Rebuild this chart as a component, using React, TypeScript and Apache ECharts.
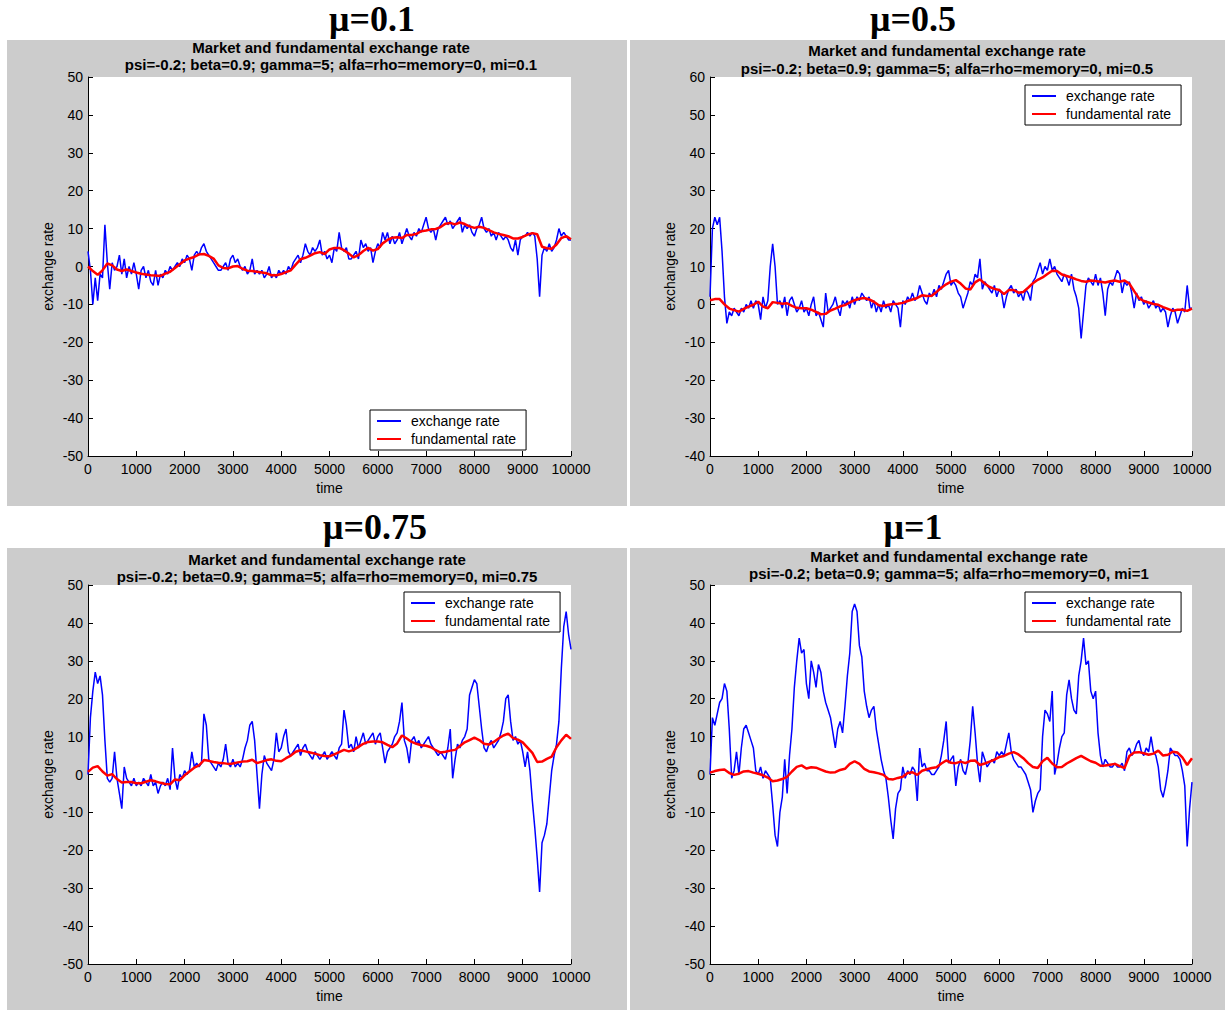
import React, { useEffect, useRef } from "react";
import * as echarts from "echarts";

// time step of the sampled series
const EXCHANGE_STEP = 50;
const FUNDAMENTAL_STEP = 100;

const SERIES_NAMES = ["exchange rate", "fundamental rate"];
const PANEL_TITLES = ["μ=0.1", "μ=0.5", "μ=0.75", "μ=1"];
const TITLE_LINE1 = "Market and fundamental exchange rate";
const TITLE_LINE2 = [
  "psi=-0.2; beta=0.9; gamma=5; alfa=rho=memory=0, mi=0.1",
  "psi=-0.2; beta=0.9; gamma=5; alfa=rho=memory=0, mi=0.5",
  "psi=-0.2; beta=0.9; gamma=5; alfa=rho=memory=0, mi=0.75",
  "psi=-0.2; beta=0.9; gamma=5; alfa=rho=memory=0, mi=1",
];
const Y_RANGES = [
  [-50, 50],
  [-40, 60],
  [-50, 50],
  [-50, 50],
];

// mu = 0.1
const p1Exchange = [
  4, -1, -10, -3, -9, -2, -3, 11, 1, -6,
  1, -1, 0, 3, -2, 2, -3, 0, -2, 1,
  -2, -6, -1, 0, -3, -1, -4, -5, -1, -5,
  -2, -3, -1, -2, 0, -1, 0, 1, 0, 2,
  1, 3, 2, -1, 3, 4, 3, 5, 6, 4,
  3, 2, 1, 0, -1, -1, 0, 1, -1, 2,
  3, 1, 2, 0, -1, 0, -2, -1, 2, -2,
  -1, -2, -1, -3, -2, 0, -3, -2, -3, -1,
  -2, -1, -2, 0, -1, 1, 2, 3, 1, 3,
  6, 4, 3, 5, 4, 5, 7, 3, 4, 2,
  3, 1, 5, 4, 9, 5, 4, 5, 2, 2,
  3, 4, 2, 7, 5, 6, 4, 5, 1, 4,
  6, 5, 9, 7, 9, 6, 8, 6, 7, 9,
  6, 8, 10, 8, 7, 9, 8, 10, 9, 11,
  13, 10, 9, 10, 7, 10, 11, 12, 13, 11,
  12, 10, 11, 12, 13, 9, 11, 10, 11, 9,
  8, 10, 11, 13, 10, 9, 10, 8, 9, 7,
  9, 8, 7, 8, 7, 5, 4, 7, 3, 7,
  8, 8, 9, 8, 9, 8, 2, -8, 3, 5,
  4, 6, 4, 5, 7, 10, 8, 9, 8, 7,
  7,
];
const p1Fundamental = [
  0, -1.2, -2.2, -1, 0.8, 0.3, -0.8, -1.2, -0.8, -1.2,
  -1.6, -1.9, -2.1, -2.3, -2.4, -2.5, -1.9, -1.4, -0.4, 0.6,
  1.6, 2.1, 2.5, 3.2, 3.3, 2.8, 2.1, 0.3, -0.4, -0.5,
  0, 0.1, -0.6, -1.1, -1.2, -1.4, -1.6, -1.8, -2.3, -2.3,
  -2, -1.5, -1, 0.5, 1.9, 2.3, 2.9, 3.5, 3.8, 3.3,
  4.5, 4.9, 4.9, 4.3, 3.4, 2.4, 3, 4.1, 4.9, 4.2,
  4.6, 6.1, 7, 7.6, 7.7, 7.5, 8.3, 8.3, 8.6, 9.3,
  9.5, 9.8, 9.9, 10.4, 11.3, 11.5, 11.1, 11.6, 11.2, 10.6,
  10.2, 10.5, 10.2, 9.6, 9, 8.6, 8.3, 8, 7.4, 7.4,
  7.8, 8.4, 8.8, 8.5, 5.2, 4.8, 4.7, 5.8, 7.5, 8,
  7.2,
];

// mu = 0.5
const p2Exchange = [
  2, 20, 23, 21, 23, 14, 2, -5, -2, -3,
  -1, -2, -3, -1, -2, 0, -1, 1, -1, 1,
  0, -4, 2, -1, 1, 10, 16, 10, 0, 1,
  -1, 2, -3, 1, 2, 0, -2, -1, 1, -2,
  -1, -3, 0, 2, -3, -2, -4, -6, 3, -2,
  -1, 0, 2, -1, -3, 1, 0, 1, -1, 2,
  0, 2, 1, 3, 2, 1, 2, -1, 1, -2,
  0, -2, 1, -1, 0, -2, 1, 0, -1, -6,
  1, 0, 2, 1, 3, 1, 2, 5, 3, 1,
  0, 3, 2, 4, 2, 5, 4, 6, 8, 9,
  5, 6, 5, 3, 2, -1, 1, 3, 6, 5,
  8, 7, 12, 4, 6, 5, 4, 3, 5, 2,
  4, 3, -1, 2, 4, 5, 3, 4, 2, 3,
  1, 4, 3, 1, 6, 7, 9, 11, 8, 10,
  9, 12, 9, 10, 8, 7, 6, 8, 7, 5,
  8, 4, 2, -1, -9, -2, 5, 7, 6, 5,
  8, 5, 7, 3, -3, 4, 6, 5, 7, 9,
  8, 3, 6, 5, 6, 3, -1, 3, 1, 2,
  0, 1, -1, 0, 1, -1, 0, -2, -1, -2,
  -6, -3, -1, -2, -5, -3, -1, -2, 5, -1,
  -1,
];
const p2Fundamental = [
  1.1, 1.4, 1.4, 0, -1.1, -1.5, -1.9, -1.2, -0.6, -0.1,
  0.7, -0.6, -1, 0.6, 0.4, 0.2, 0.3, -0.4, -0.9, -1,
  -1, -1.4, -2, -2.6, -2.5, -1.6, -1.1, -0.5, -0.2, 0.5,
  1.1, 1.5, 1.7, 1.3, 0.7, -0.2, -0.4, -0.1, 0.1, 0.2,
  0.4, 0.9, 1.3, 1.7, 2.4, 2.2, 2.3, 3.3, 4.4, 5.3,
  6, 6.4, 5.5, 4.2, 3.9, 5.8, 6.6, 5.5, 4.6, 4.1,
  3.8, 2.7, 3.8, 3.8, 3.1, 3.3, 4.4, 5.6, 6.5, 7.1,
  8, 8.9, 8.8, 7.9, 7.5, 7.1, 6.6, 6.2, 6, 6.3,
  6.2, 6, 5.8, 6.1, 6.3, 6, 6.3, 5.5, 3.5, 1.6,
  0.9, 0.5, 0.1, -0.1, -0.7, -1.2, -1.7, -1.4, -1.4, -1.7,
  -1.1,
];

// mu = 0.75
const p3Exchange = [
  0, 15, 22, 27, 24, 26, 21, 9, -1, -2,
  -1, 6, -1, -5, -9, 2, -1, -2, -3, -1,
  -3, -2, -3, -1, -2, -3, 0, -3, -2, -5,
  -3, -2, -3, -1, -4, 7, -1, -4, 0, -1,
  1, 0, 1, 6, 2, 3, 2, 3, 16, 13,
  4, 3, 2, 1, 3, 2, 4, 8, 3, 2,
  4, 2, 3, 2, 4, 7, 9, 13, 14, 9,
  0, -9, 0, 5, 3, 2, 1, 4, 11, 6,
  7, 10, 12, 6, 5, 6, 7, 8, 5, 7,
  8, 6, 5, 4, 6, 5, 4, 5, 6, 4,
  5, 6, 5, 4, 7, 8, 17, 13, 7, 8,
  6, 10, 7, 9, 11, 8, 9, 10, 11, 8,
  10, 11, 7, 3, 6, 7, 8, 10, 11, 14,
  19, 9, 7, 3, 9, 10, 8, 9, 7, 8,
  9, 10, 8, 7, 6, 5, 6, 5, 4, 7,
  12, -1, 4, 8, 7, 9, 10, 12, 21, 23,
  25, 24, 18, 12, 7, 6, 8, 9, 7, 8,
  9, 11, 14, 20, 21, 14, 9, 10, 8, 9,
  6, 2, 6, 1, -7, -14, -22, -31, -18, -16,
  -13, -6, 1, 5, 8, 14, 28, 39, 43, 37,
  33,
];
const p3Fundamental = [
  0.7, 1.8, 2.2, 0.8, -0.3, 0.1, -1.2, -2.1, -2, -2,
  -2.3, -2.3, -1.9, -1.5, -1.8, -2.2, -2.5, -2.6, -1.3, -1.5,
  -0.2, 0.8, 1.8, 2.4, 3.8, 3.6, 3.3, 3.1, 3, 2.8,
  2.9, 3.2, 3.4, 3.5, 3.9, 3, 3.4, 3.8, 4, 3.6,
  3.5, 4.3, 5, 6, 6.4, 6.1, 5.8, 5.5, 5.1, 4.9,
  4.8, 5.3, 5.9, 6.5, 6.1, 6.5, 7.3, 8.1, 8.6, 8.7,
  8.7, 8.5, 7.8, 7.2, 8.2, 10.3, 9.5, 8.6, 8.1, 7.7,
  7.6, 7.2, 6.4, 5.8, 6, 6.3, 6.5, 7.5, 8.5, 9.1,
  9.7, 9.1, 8.1, 7.9, 8.6, 9.5, 10.3, 10.8, 9.6, 9.2,
  8.5, 7.1, 5.7, 3.3, 3.4, 4.1, 4.7, 7.2, 9, 10.5,
  9.4,
];

// mu = 1
const p4Exchange = [
  0, 15, 13, 16, 19, 20, 24, 22, 12, -1,
  1, 6, 0, 7, 12, 13, 11, 9, 7, 1,
  0, 2, -1, 1, 0, -1, -8, -16, -19, -10,
  -6, 4, -5, 5, 12, 23, 30, 36, 32, 33,
  24, 20, 30, 27, 23, 29, 27, 22, 19, 17,
  15, 11, 7, 12, 14, 11, 18, 26, 32, 43,
  45, 43, 34, 31, 22, 18, 15, 17, 18, 12,
  8, 4, 1, -1, -6, -12, -17, -9, -5, -4,
  2, -1, 1, 0, 2, 1, -7, 7, 2, 3,
  1, 1, 0, 0, 1, 2, 5, 9, 14, 3,
  4, 5, -3, 2, 4, 1, 0, 3, 9, 18,
  11, 3, -2, 6, 4, 2, 3, 4, 3, 6,
  5, 6, 5, 8, 11, 6, 4, 3, 2, 2,
  1, 0, -2, -4, -10, -7, -5, -4, 10, 17,
  16, 14, 22, 0, 3, 7, 10, 11, 21, 25,
  20, 17, 16, 26, 30, 36, 29, 30, 22, 20,
  22, 11, 5, 2, 4, 3, 2, 2, 3, 2,
  2, 3, 1, 6, 7, 5, 6, 8, 9, 6,
  5, 7, 6, 10, 6, 5, 2, -4, -6, -3,
  1, 7, 6, 5, 5, 4, 1, -3, -19, -9,
  -2,
];
const p4Fundamental = [
  0.5, 0.9, 1.2, 1.3, 0.4, -0.1, 0.2, 0.8, 0.9, 0.5,
  0.2, -0.2, -0.8, -1.8, -1.6, -1.2, -0.6, 0.8, 2, 2.4,
  1.6, 1.9, 1.8, 1.3, 0.8, 0.5, 0.6, 1.2, 1.5, 2.8,
  3.5, 2.8, 1.5, 0.8, 0.6, 0.3, -0.1, -1.2, -1.3, -0.9,
  -0.6, 0.4, 0.6, -0.1, 1, 1.4, 1.7, 1.9, 2.9, 3.7,
  3.1, 3, 3.4, 3, 3.6, 3.7, 2.5, 2.9, 3.4, 3.9,
  4.6, 4.9, 5.5, 5.9, 5.3, 4.3, 3, 2, 1.7, 3.5,
  4.4, 2.9, 1.9, 2, 2.9, 3.6, 4.3, 4.9, 4.2, 3.5,
  3.1, 2.3, 2.4, 2.6, 2.8, 2.2, 1.7, 4.9, 5.8, 5.9,
  5.6, 5.2, 5.5, 6.3, 5, 5.2, 6, 5.8, 4.5, 2.5,
  4.3,
];

const EXCHANGE = [p1Exchange, p2Exchange, p3Exchange, p4Exchange];
const FUNDAMENTAL = [p1Fundamental, p2Fundamental, p3Fundamental, p4Fundamental];

// layout (pixels)
const GRIDS = [
  { left: 88, top: 77, width: 483, height: 379 },
  { left: 710, top: 77, width: 482, height: 379 },
  { left: 88, top: 585, width: 483, height: 379 },
  { left: 710, top: 585, width: 482, height: 379 },
];
const BACKS = [
  { x: 7, y: 40, width: 620, height: 466 },
  { x: 630, y: 40, width: 595, height: 466 },
  { x: 7, y: 548, width: 620, height: 462 },
  { x: 630, y: 548, width: 595, height: 462 },
];
const BIG_TITLE_POS = [
  [372, 19],
  [913, 19],
  [375, 527],
  [913, 527],
];
const SUB_POS = [
  [331, 47, 64],
  [947, 50, 68],
  [327, 559, 576],
  [949, 556, 573],
];
const LEGEND_POS = [
  [370, 410],
  [1025, 85],
  [404, 592],
  [1025, 592],
];

const FONT = '"Liberation Sans", Arial, Helvetica, sans-serif';

function pairs(values: number[], step: number) {
  return values.map((v, i) => [i * step, v]);
}

export default function App() {
  const ref = useRef<HTMLDivElement>(null);
  useEffect(() => {
    if (!ref.current) return;
    const chart = echarts.init(ref.current, null, { renderer: "svg" });

    const graphics: any[] = [];
    BACKS.forEach((b) => {
      graphics.push({
        type: "rect",
        z: -100,
        shape: { x: b.x, y: b.y, width: b.width, height: b.height },
        style: { fill: "#cccccc" },
        silent: true,
      });
    });
    PANEL_TITLES.forEach((t, i) => {
      graphics.push({
        type: "text",
        z: 100,
        x: BIG_TITLE_POS[i][0],
        y: BIG_TITLE_POS[i][1],
        style: {
          text: t,
          font: 'bold 36px "Liberation Serif", "Times New Roman", serif',
          fill: "#000",
          align: "center",
          verticalAlign: "middle",
        },
      });
      graphics.push({
        type: "text",
        z: 100,
        x: SUB_POS[i][0],
        y: SUB_POS[i][1],
        style: {
          text: TITLE_LINE1,
          font: "bold 15px " + FONT,
          fill: "#000",
          align: "center",
          verticalAlign: "middle",
        },
      });
      graphics.push({
        type: "text",
        z: 100,
        x: SUB_POS[i][0],
        y: SUB_POS[i][2],
        style: {
          text: TITLE_LINE2[i],
          font: "bold 15px " + FONT,
          fill: "#000",
          align: "center",
          verticalAlign: "middle",
        },
      });
    });

    const axisCommon = {
      axisLine: { show: true, onZero: false, lineStyle: { color: "#000", width: 1 } },
      axisTick: { show: true, inside: true, length: 5, lineStyle: { color: "#000", width: 1 } },
      splitLine: { show: false },
      nameTextStyle: { fontSize: 14, color: "#000", fontFamily: FONT },
    };

    const option: any = {
      animation: false,
      backgroundColor: "#ffffff",
      graphic: { elements: graphics },
      grid: GRIDS.map((g) => ({
        ...g,
        show: true,
        backgroundColor: "#ffffff",
        borderWidth: 0,
        containLabel: false,
      })),
      xAxis: GRIDS.map((_, i) => ({
        ...axisCommon,
        gridIndex: i,
        type: "value",
        min: 0,
        max: 10000,
        interval: 1000,
        name: "time",
        nameLocation: "middle",
        nameGap: 25,
        axisLabel: {
          color: "#000",
          fontSize: 14,
          fontFamily: FONT,
          margin: 6,
          formatter: (v: number) => String(v),
        },
      })),
      yAxis: GRIDS.map((_, i) => ({
        ...axisCommon,
        gridIndex: i,
        type: "value",
        min: Y_RANGES[i][0],
        max: Y_RANGES[i][1],
        interval: 10,
        name: "exchange rate",
        nameLocation: "middle",
        nameGap: 33,
        axisLabel: {
          color: "#000",
          fontSize: 14,
          fontFamily: FONT,
          margin: 5,
          formatter: (v: number) => String(v),
        },
      })),
      legend: LEGEND_POS.map((p) => ({
        left: p[0],
        top: p[1],
        orient: "vertical",
        icon: "rect",
        itemWidth: 24,
        itemHeight: 2,
        itemGap: 4,
        padding: [4, 10, 4, 7],
        backgroundColor: "#ffffff",
        borderColor: "#000",
        borderWidth: 1,
        borderRadius: 0,
        selectedMode: false,
        data: SERIES_NAMES,
        textStyle: {
          fontSize: 14,
          color: "#000",
          fontFamily: FONT,
          lineHeight: 14,
          padding: [0, 0, 0, 5],
        },
      })),
      series: GRIDS.flatMap((_, i) => [
        {
          type: "line",
          name: SERIES_NAMES[0],
          xAxisIndex: i,
          yAxisIndex: i,
          data: pairs(EXCHANGE[i], EXCHANGE_STEP),
          showSymbol: false,
          symbol: "none",
          silent: true,
          z: 2,
          lineStyle: { color: "#0000ff", width: 1.5 },
          itemStyle: { color: "#0000ff" },
        },
        {
          type: "line",
          name: SERIES_NAMES[1],
          xAxisIndex: i,
          yAxisIndex: i,
          data: pairs(FUNDAMENTAL[i], FUNDAMENTAL_STEP),
          showSymbol: false,
          symbol: "none",
          silent: true,
          z: 3,
          lineStyle: { color: "#ff0000", width: 2.5 },
          itemStyle: { color: "#ff0000" },
        },
      ]),
    };
    chart.setOption(option);
    return () => chart.dispose();
  }, []);

  return (
    <div
      ref={ref}
      style={{ position: "absolute", left: 0, top: 0, width: 1225, height: 1012 }}
    />
  );
}
